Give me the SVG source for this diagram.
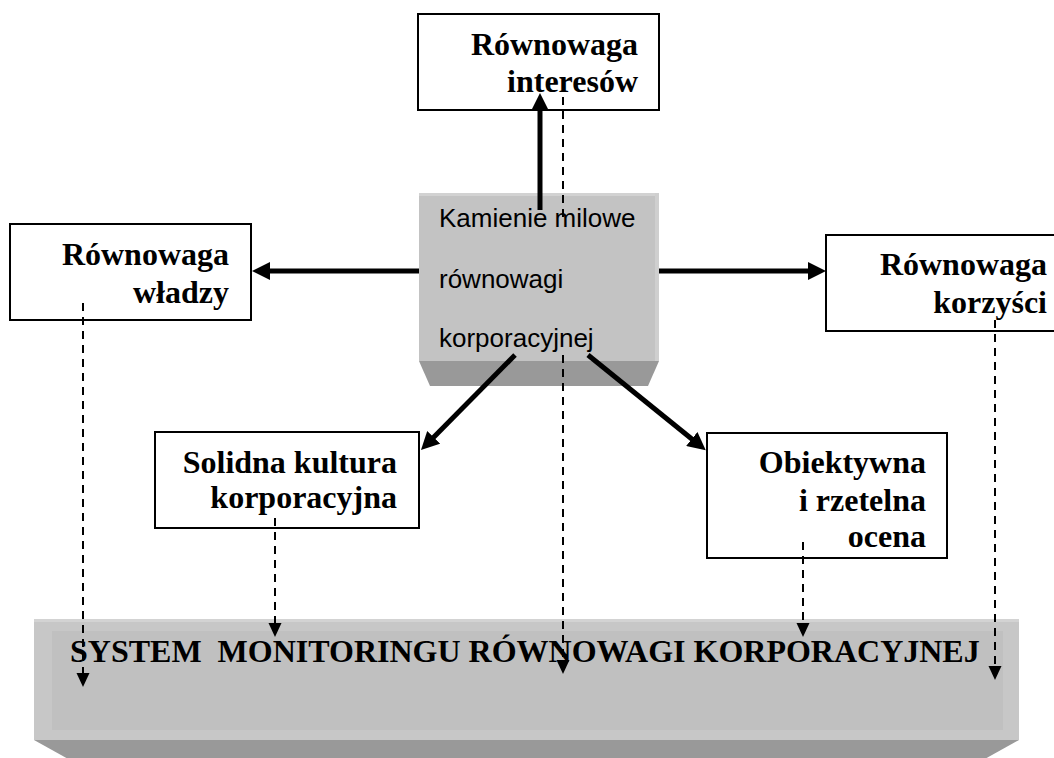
<svg xmlns="http://www.w3.org/2000/svg" width="1054" height="758" viewBox="0 0 1054 758">
  <defs>
    <style>
      .box { fill: #ffffff; stroke: #000000; stroke-width: 2; }
      .lbl { font-family: "Liberation Serif", "Times New Roman", serif; font-weight: bold; font-size: 32px; fill: #000000; text-anchor: end; }
      .hub { font-family: "Liberation Sans", Arial, sans-serif; font-size: 26px; fill: #000000; }
      .face { fill: #c3c3c3; }
      .bevel { fill: #999999; }
      .solid { stroke: #000000; stroke-width: 5; fill: none; marker-end: url(#headBig); }
      .dash { stroke: #000000; stroke-width: 2; stroke-dasharray: 8 6; fill: none; }
      .dash.end { marker-end: url(#headSmall); }
    </style>
    <marker id="headBig" markerUnits="userSpaceOnUse" markerWidth="20" markerHeight="18" refX="8" refY="9" orient="auto">
      <path d="M0,0 L18,9 L0,18 z" fill="#000000"/>
    </marker>
    <marker id="headSmall" markerUnits="userSpaceOnUse" markerWidth="16" markerHeight="14" refX="4" refY="6.5" orient="auto">
      <path d="M0,0 L14,6.5 L0,13 z" fill="#000000"/>
    </marker>
    <clipPath id="hubClip">
      <rect x="425" y="195" width="230" height="157"/>
    </clipPath>
  </defs>

  <!-- monitoring system slab -->
  <g id="system">
    <polygon class="bevel" points="34,740 1019,740 983,760 70,760"/>
    <rect x="34" y="619" width="985" height="121" fill="#c7c7c7"/>
    <rect x="34" y="619" width="985" height="3" fill="#d3d3d3"/>
    <rect x="52" y="631" width="951" height="99" fill="#c0c0c0"/>
    <text x="70" y="662" font-family="Liberation Serif, 'Times New Roman', serif" font-weight="bold" font-size="32" fill="#000000" xml:space="preserve">SYSTEM  MONITORINGU RÓWNOWAGI KORPORACYJNEJ</text>
  </g>

  <!-- central block -->
  <g id="hub">
    <polygon class="bevel" points="419,361 659,361 648,386 430,386"/>
    <rect class="face" x="419" y="193" width="240" height="168"/>
    <rect x="419" y="193" width="240" height="3" fill="#d2d2d2"/>
    <rect x="655" y="193" width="4" height="168" fill="#cfcfcf"/>
    <g clip-path="url(#hubClip)">
      <text class="hub" x="439" y="227">Kamienie milowe</text>
      <text class="hub" x="439" y="288">równowagi</text>
      <text class="hub" x="439" y="347">korporacyjnej</text>
    </g>
  </g>

  <g id="interests">
    <rect class="box" x="418" y="14" width="241" height="96"/>
    <text class="lbl" x="638" y="55">Równowaga</text>
    <text class="lbl" x="638" y="92">interesów</text>
  </g>

  <g id="power">
    <rect class="box" x="10" y="224" width="241" height="96"/>
    <text class="lbl" x="229" y="265">Równowaga</text>
    <text class="lbl" x="229" y="303">władzy</text>
  </g>

  <g id="benefits">
    <rect class="box" x="826" y="235" width="241" height="96"/>
    <text class="lbl" x="1047" y="275">Równowaga</text>
    <text class="lbl" x="1047" y="313">korzyści</text>
  </g>

  <g id="culture">
    <rect class="box" x="155" y="432" width="264" height="96"/>
    <text class="lbl" x="397" y="473">Solidna kultura</text>
    <text class="lbl" x="397" y="508">korporacyjna</text>
  </g>

  <g id="assessment">
    <rect class="box" x="707" y="433" width="240" height="125"/>
    <text class="lbl" x="926" y="473">Obiektywna</text>
    <text class="lbl" x="926" y="511">i rzetelna</text>
    <text class="lbl" x="926" y="547">ocena</text>
  </g>

  <g id="connectors">
    <!-- solid arrows out of the central block -->
    <line class="solid" x1="540" y1="210" x2="540" y2="103"/>
    <line class="solid" x1="419" y1="271" x2="262" y2="271"/>
    <line class="solid" x1="659" y1="271" x2="816" y2="271"/>
    <line class="solid" x1="515" y1="355" x2="428" y2="443"/>
    <line class="solid" x1="588" y1="355" x2="698" y2="444"/>
    <!-- dashed feeds into the monitoring system -->
    <line class="dash end" x1="83" y1="303" x2="83" y2="677"/>
    <line class="dash end" x1="275" y1="518" x2="275" y2="627"/>
    <line class="dash" x1="563" y1="97" x2="563" y2="219"/>
    <line class="dash end" x1="563" y1="355" x2="563" y2="664"/>
    <line class="dash end" x1="803" y1="542" x2="803" y2="627"/>
    <line class="dash end" x1="995" y1="320" x2="995" y2="670"/>
  </g>
</svg>
